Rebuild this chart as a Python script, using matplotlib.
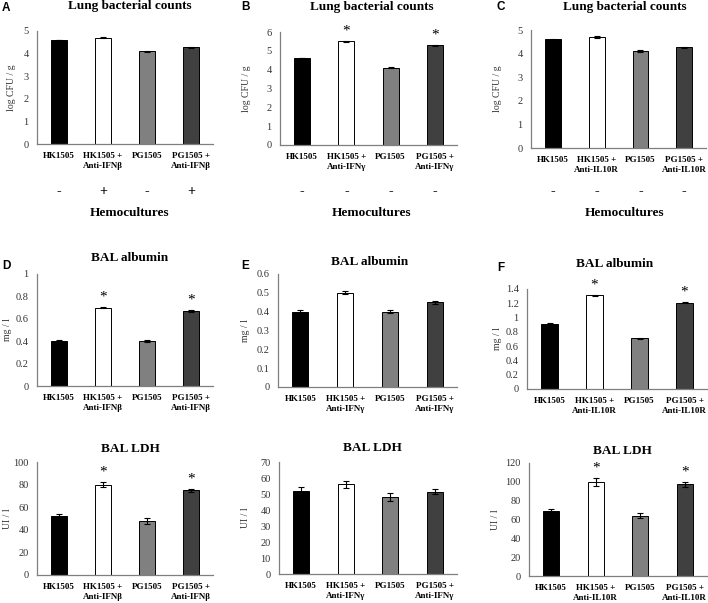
import matplotlib
matplotlib.use("Agg")
import matplotlib.pyplot as plt
from matplotlib.transforms import blended_transform_factory

plt.rcParams['font.family'] = ['Liberation Serif', 'DejaVu Serif']

# --- data -----------------------------------------------------------
lab_ifnb = ["HK1505", "HK1505 +\nAnti-IFNβ", "PG1505", "PG1505 +\nAnti-IFNβ"]
lab_ifng = ["HK1505", "HK1505 +\nAnti-IFNγ", "PG1505", "PG1505 +\nAnti-IFNγ"]
lab_il10 = ["HK1505", "HK1505 +\nAnti-IL10R", "PG1505", "PG1505 +\nAnti-IL10R"]

lung_a = [4.60, 4.70, 4.10, 4.27]
lung_a_err = [0.02, 0.03, 0.03, 0.03]
lung_b = [4.62, 5.50, 4.10, 5.29]
lung_b_err = [0.02, 0.03, 0.03, 0.03]
lung_c = [4.60, 4.70, 4.10, 4.27]
lung_c_err = [0.02, 0.03, 0.04, 0.03]

alb_d = [0.40, 0.70, 0.40, 0.67]
alb_d_err = [0.008, 0.008, 0.008, 0.010]
alb_e = [0.40, 0.50, 0.40, 0.45]
alb_e_err = [0.008, 0.008, 0.008, 0.009]
alb_f = [0.91, 1.31, 0.71, 1.21]
alb_f_err = [0.01, 0.01, 0.01, 0.01]

ldh_d = [52, 80, 48, 75]
ldh_d_err = [2.0, 2.0, 2.5, 1.5]
ldh_e = [52, 56, 48, 51.5]
ldh_e_err = [2.5, 2.0, 2.5, 1.5]
ldh_f = [69, 100, 64, 97.5]
ldh_f_err = [2.5, 4.0, 2.5, 2.5]

hemo_a = ["-", "+", "-", "+"]
hemo_b = ["-", "-", "-", "-"]
hemo_c = ["-", "-", "-", "-"]

stars_a = [False, False, False, False]
stars_b = [False, True, False, True]
stars_c = [False, False, False, False]
stars_d = [False, True, False, True]
stars_e = [False, False, False, False]
stars_f = [False, True, False, True]

bar_colors = ["black", "white", "#808080", "#404040"]

W, H = 708, 603
fig = plt.figure(figsize=(W / 100, H / 100), dpi=100)


def px_axes(left, top, right, bottom):
    return fig.add_axes([left / W, 1 - bottom / H, (right - left) / W, (bottom - top) / H])


def panel(box, vals, errs, labels, ymax, ystep, ylabel, ylab_x, title, title_xy,
          stars, tick_fmt=None):
    ax = px_axes(*box)
    x = range(len(vals))
    ax.bar(x, vals, width=0.36, color=bar_colors, edgecolor="black", linewidth=0.7,
           yerr=errs, capsize=2.2, error_kw=dict(ecolor="black", elinewidth=0.8, capthick=0.8))
    ax.set_xlim(-0.5, 3.5)
    ax.set_ylim(0, ymax)
    n = int(round(ymax / ystep))
    ticks = [i * ystep for i in range(n + 1)]
    ax.set_yticks(ticks)
    if tick_fmt:
        ax.set_yticklabels([tick_fmt(t) for t in ticks])
    ax.set_xticks(list(x))
    ax.set_xticklabels(labels, fontsize=6.5, fontweight="bold")
    ax.tick_params(axis="both", length=0)
    ax.tick_params(axis="y", labelsize=7.5, labelcolor="#333333", pad=6)
    ax.tick_params(axis="x", pad=6)
    for s in ["top", "right"]:
        ax.spines[s].set_visible(False)
    for s in ["left", "bottom"]:
        ax.spines[s].set_color("#7f7f7f")
        ax.spines[s].set_linewidth(0.9)
    for i, st in enumerate(stars):
        if st:
            ax.text(i, vals[i] + errs[i] + ymax * 0.03, "*", ha="center", va="bottom",
                    fontsize=11)
    fig.text(ylab_x / W, 1 - (box[1] + box[3]) / 2 / H, ylabel, rotation=90,
             ha="center", va="center", fontsize=7, color="#333333")
    fig.text(title_xy[0] / W, 1 - title_xy[1] / H, title, ha="center", va="center",
             fontsize=9.5, fontweight="bold")
    return ax


def fmt_plain(t):
    s = ("%.1f" % t)
    if s.endswith(".0"):
        s = s[:-2]
    return s


# top row: lung bacterial counts
ax_a = panel((37, 31, 213, 144), lung_a, lung_a_err, lab_ifnb, 5, 1, "log CFU / g", 12,
             "Lung bacterial counts", (130, 6), stars_a)
ax_b = panel((280, 32, 457, 145), lung_b, lung_b_err, lab_ifng, 6, 1, "log CFU / g", 247,
             "Lung bacterial counts", (372, 7), stars_b)
ax_c = panel((531, 30, 706, 148), lung_c, lung_c_err, lab_il10, 5, 1, "log CFU / g", 497,
             "Lung bacterial counts", (625, 7), stars_c)

# hemocultures rows
for ax, signs, cx in [(ax_a, hemo_a, 130), (ax_b, hemo_b, 372), (ax_c, hemo_c, 625)]:
    tr = blended_transform_factory(ax.transData, fig.transFigure)
    for i, s in enumerate(signs):
        ax.text(i, 1 - 192 / H, s, transform=tr, ha="center", va="center",
                fontsize=10, fontweight="bold")
    fig.text(cx / W, 1 - 213 / H, "Hemocultures", ha="center", va="center",
             fontsize=9.5, fontweight="bold")

# middle row: BAL albumin
panel((37, 274, 213, 386), alb_d, alb_d_err, lab_ifnb, 1.0, 0.2, "mg / l", 8,
      "BAL albumin", (130, 258), stars_d, fmt_plain)
panel((278, 274, 457, 387), alb_e, alb_e_err, lab_ifng, 0.6, 0.1, "mg / l", 245,
      "BAL albumin", (370, 262), stars_e, fmt_plain)
panel((527, 289, 707, 389), alb_f, alb_f_err, lab_il10, 1.4, 0.2, "mg / l", 498,
      "BAL albumin", (615, 264), stars_f, fmt_plain)

# bottom row: BAL LDH
panel((37, 462, 213, 575), ldh_d, ldh_d_err, lab_ifnb, 100, 20, "UI / l", 8,
      "BAL LDH", (130, 449), stars_d)
panel((279, 462, 457, 574), ldh_e, ldh_e_err, lab_ifng, 70, 10, "UI / l", 245,
      "BAL LDH", (372, 448), stars_e)
panel((529, 463, 707, 576), ldh_f, ldh_f_err, lab_il10, 120, 20, "UI / l", 495,
      "BAL LDH", (622, 451), stars_f)

# panel letters
for letter, (px, py) in {"A": (6, 8), "B": (245, 7), "C": (501, 7),
                         "D": (6, 266), "E": (245, 266), "F": (501, 268)}.items():
    fig.text(px / W, 1 - py / H, letter, ha="center", va="center", fontsize=8.5,
             fontweight="bold", family="Liberation Sans")

fig.savefig("out.png", dpi=100)
